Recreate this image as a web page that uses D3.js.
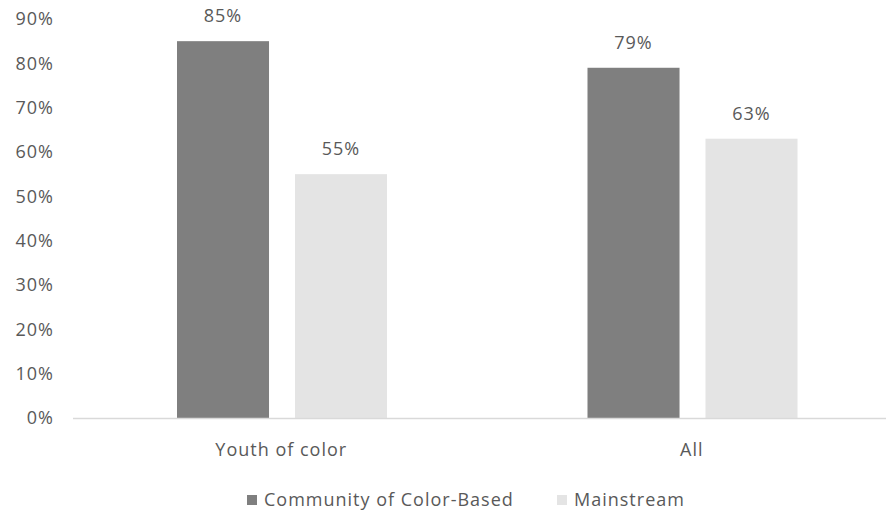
<!DOCTYPE html>
<html>
<head>
<meta charset="utf-8">
<script src="https://cdn.jsdelivr.net/npm/d3@7"></script>
<style>
  body { margin: 0; background: #fff; }
  svg text { font-family: "Open Sans", Lato, sans-serif; fill: #595959; letter-spacing: 1px; }
</style>
</head>
<body>
<svg id="chart" width="891" height="512"></svg>
<script>
var categories = ["Youth of color", "All"];
var seriesNames = ["Community of Color-Based", "Mainstream"];
var communityValues = [0.85, 0.79];
var mainstreamValues = [0.55, 0.63];
var yTicks = [0, 0.1, 0.2, 0.3, 0.4, 0.5, 0.6, 0.7, 0.8, 0.9];

var colors = {"Community of Color-Based": "#7f7f7f", "Mainstream": "#e4e4e4"};
var fontSize = "18px";

var svg = d3.select("#chart");
var fmt = d3.format(".0%");

var yScale = d3.scaleLinear().domain([0, 0.9]).range([418, 19]);
var xScale = d3.scaleBand().domain(categories).range([77, 898]);
// bar offsets inside each category band
var inner = d3.scaleBand().domain(seriesNames).range([100, 310]).paddingInner(0.22);

var rows = [];
categories.forEach(function(c, i) {
    rows.push({cat: c, series: seriesNames[0], value: communityValues[i]});
    rows.push({cat: c, series: seriesNames[1], value: mainstreamValues[i]});
});

// y labels
svg.append("g").selectAll("text").data(yTicks).enter().append("text")
    .attr("x", 54)
    .attr("y", function(d) { return yScale(d); })
    .attr("dy", "0.35em")
    .attr("text-anchor", "end")
    .style("font-size", fontSize)
    .text(fmt);

// bars
svg.append("g").selectAll("rect").data(rows).enter().append("rect")
    .attr("x", function(d) { return xScale(d.cat) + inner(d.series); })
    .attr("y", function(d) { return yScale(d.value); })
    .attr("width", inner.bandwidth())
    .attr("height", function(d) { return yScale(0) - yScale(d.value); })
    .attr("fill", function(d) { return colors[d.series]; });

// value labels
svg.append("g").selectAll("text").data(rows).enter().append("text")
    .attr("x", function(d) { return xScale(d.cat) + inner(d.series) + inner.bandwidth() / 2; })
    .attr("y", function(d) { return yScale(d.value) - 25; })
    .attr("dy", "0.35em")
    .attr("text-anchor", "middle")
    .style("font-size", fontSize)
    .text(function(d) { return fmt(d.value); });

// baseline
svg.append("line")
    .attr("x1", 73).attr("x2", 886)
    .attr("y1", yScale(0) + 0.5).attr("y2", yScale(0) + 0.5)
    .attr("stroke", "#d9d9d9").attr("stroke-width", 1.5);

// category labels
svg.append("g").selectAll("text").data(categories).enter().append("text")
    .attr("x", function(d) { return xScale(d) + xScale.bandwidth() / 2 - 1; })
    .attr("y", 450)
    .attr("dy", "0.35em")
    .attr("text-anchor", "middle")
    .style("font-size", fontSize)
    .text(function(d) { return d; });

// legend
var legendX = [247, 557];
var legend = svg.append("g").selectAll("g").data(seriesNames).enter().append("g")
    .attr("transform", function(d, i) { return "translate(" + legendX[i] + ",500)"; });
legend.append("rect")
    .attr("x", 0).attr("y", -5).attr("width", 10).attr("height", 10)
    .attr("fill", function(d) { return colors[d]; });
legend.append("text")
    .attr("x", 17).attr("dy", "0.35em")
    .style("font-size", fontSize)
    .text(function(d) { return d; });
</script>
</body>
</html>
